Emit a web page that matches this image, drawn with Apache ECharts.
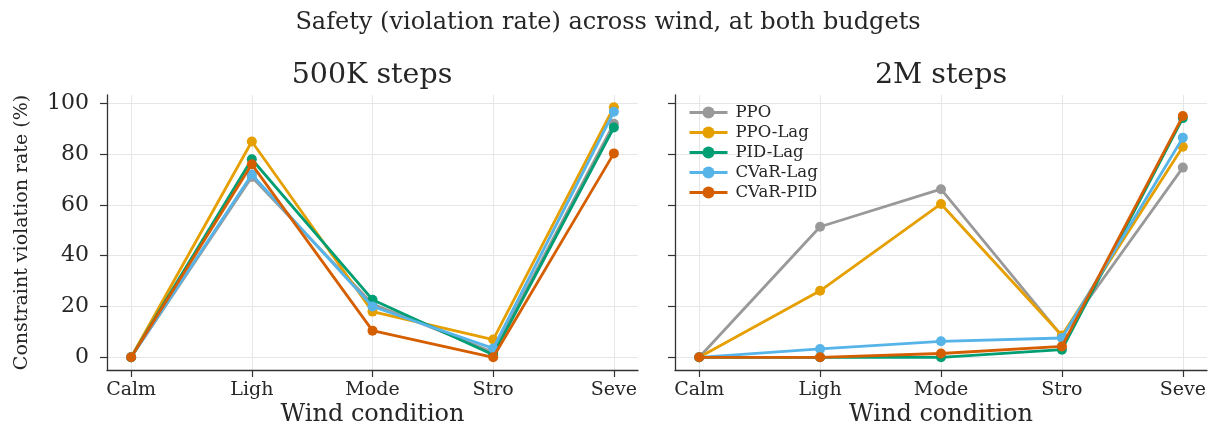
<!DOCTYPE html>
<html>
<head>
<meta charset="utf-8">
<script src="https://cdn.jsdelivr.net/npm/echarts@6/dist/echarts.min.js"></script>
<style>html,body{margin:0;padding:0;background:#fff}#c{width:1212px;height:425px}</style>
</head>
<body>
<div id="c"></div>
<script>
const categories = ['Calm', 'Ligh', 'Mode', 'Stro', 'Seve'];
const methods = ['PPO', 'PPO-Lag', 'PID-Lag', 'CVaR-Lag', 'CVaR-PID'];
const yTicks = [0, 20, 40, 60, 80, 100];

// 500K steps
const s500K_PPO     = [0, 71, 21, 2, 92];
const s500K_PPOLag  = [0, 85, 18, 7, 98.5];
const s500K_PIDLag  = [0, 78, 22.7, 1, 90.5];
const s500K_CVaRLag = [0, 72, 20, 3.5, 96.7];
const s500K_CVaRPID = [0, 76, 10.5, 0, 80.3];

// 2M steps
const s2M_PPO     = [0, 51.4, 66.2, 8.3, 74.7];
const s2M_PPOLag  = [0, 26.2, 60.4, 8.6, 82.9];
const s2M_PIDLag  = [0, 0, 0, 3.0, 94.2];
const s2M_CVaRLag = [0, 3.3, 6.3, 7.6, 86.5];
const s2M_CVaRPID = [0, 0, 1.5, 4.3, 95];

const colors = ['#999999', '#E69F00', '#009E73', '#56B4E9', '#D55E00'];
const panel500K = [s500K_PPO, s500K_PPOLag, s500K_PIDLag, s500K_CVaRLag, s500K_CVaRPID];
const panel2M = [s2M_PPO, s2M_PPOLag, s2M_PIDLag, s2M_CVaRLag, s2M_CVaRPID];

const FONT = 'DejaVu Serif';
const TXT = '#262626';
const catIdx = categories.map((c, i) => i);

function xAxis(gridIndex) {
  return {
    type: 'value', gridIndex, min: -0.2, max: 4.2,
    name: 'Wind condition', nameLocation: 'middle', nameGap: 33, nameMoveOverlap: false,
    nameTextStyle: {fontFamily: FONT, fontSize: 24, color: TXT},
    axisLine: {show: true, onZero: false, lineStyle: {color: '#333', width: 1.3}},
    axisTick: {show: true, length: 7, customValues: catIdx, lineStyle: {color: '#333', width: 1.2}},
    axisLabel: {customValues: catIdx, margin: 11, fontFamily: FONT, fontSize: 19, color: TXT,
      formatter: v => categories[Math.round(v)]},
    splitLine: {show: true, lineStyle: {color: '#e6e6e6', width: 1}}
  };
}
function yAxis(gridIndex, showLabels) {
  return {
    type: 'value', gridIndex, min: -5, max: 103.3,
    name: showLabels ? 'Constraint violation rate (%)' : '', nameLocation: 'middle', nameGap: 75,
    nameMoveOverlap: false,
    nameTextStyle: {fontFamily: FONT, fontSize: 19, color: TXT},
    axisLine: {show: true, onZero: false, lineStyle: {color: '#333', width: 1.3}},
    axisTick: {show: true, length: 7, customValues: yTicks, lineStyle: {color: '#333', width: 1.2}},
    axisLabel: {show: showLabels, customValues: yTicks, margin: 18, fontFamily: FONT, fontSize: 22, color: TXT},
    splitLine: {show: true, lineStyle: {color: '#e6e6e6', width: 1}}
  };
}

const series = [];
[panel500K, panel2M].forEach((panel, p) => {
  panel.forEach((vals, k) => {
    series.push({
      type: 'line', name: methods[k], xAxisIndex: p, yAxisIndex: p,
      data: vals.map((v, i) => [catIdx[i], v]),
      symbol: 'circle', symbolSize: 10, showSymbol: true,
      lineStyle: {color: colors[k], width: 2.8},
      itemStyle: {color: colors[k]},
      emphasis: {disabled: true}, z: 2 + k
    });
  });
});

const chart = echarts.init(document.getElementById('c'), null, {renderer: 'canvas'});
chart.setOption({
  animation: false,
  backgroundColor: '#fff',
  textStyle: {fontFamily: FONT},
  title: [
    {text: 'Safety (violation rate) across wind, at both budgets', left: 603, textAlign: 'center', top: 6,
      textStyle: {fontFamily: FONT, fontSize: 24, fontWeight: 'normal', color: TXT}},
    {text: '500K steps', left: 367, textAlign: 'center', top: 56,
      textStyle: {fontFamily: FONT, fontSize: 28.5, fontWeight: 'normal', color: TXT}},
    {text: '2M steps', left: 936, textAlign: 'center', top: 56,
      textStyle: {fontFamily: FONT, fontSize: 28.5, fontWeight: 'normal', color: TXT}}
  ],
  legend: {
    data: methods, orient: 'vertical', left: 688, top: 104, padding: 0,
    itemWidth: 38, itemHeight: 15, itemGap: 3,
    lineStyle: {width: 3},
    textStyle: {fontFamily: FONT, fontSize: 16.5, color: TXT, padding: [0, 0, 0, 3]}
  },
  grid: [
    {left: 107, top: 95, width: 531, height: 275, outerBoundsMode: 'none', containLabel: false},
    {left: 675, top: 95, width: 532, height: 275, outerBoundsMode: 'none', containLabel: false}
  ],
  xAxis: [xAxis(0), xAxis(1)],
  yAxis: [yAxis(0, true), yAxis(1, false)],
  series
});
</script>
</body>
</html>
